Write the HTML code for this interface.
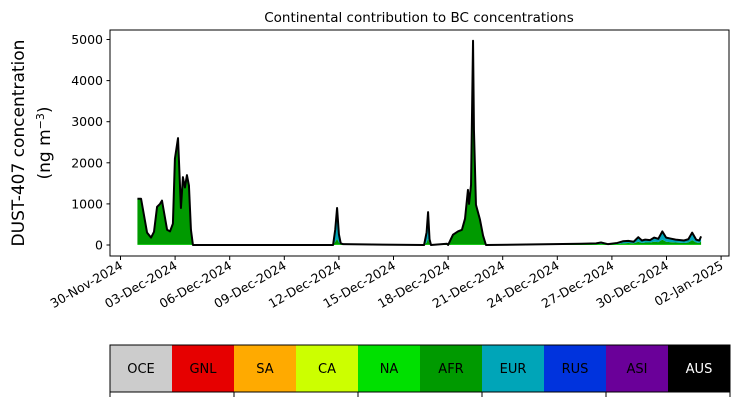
<!DOCTYPE html>
<html><head><meta charset="utf-8"><style>
html,body{margin:0;padding:0;background:#fff;width:739px;height:402px;overflow:hidden}
svg text{font-family:"DejaVu Sans","Liberation Sans",sans-serif}
</style></head><body>
<svg id="chart" width="739" height="402" xmlns="http://www.w3.org/2000/svg">
<text x="419" y="22" font-size="13.5" text-anchor="middle">Continental contribution to BC concentrations</text>
<text transform="translate(24,143) rotate(-90)" font-size="17" text-anchor="middle">DUST-407 concentration</text>
<text transform="translate(50,143) rotate(-90)" font-size="17" text-anchor="middle">(ng m<tspan baseline-shift="super" font-size="11">−3</tspan>)</text>
<g id="plot"></g>
<rect x="110" y="30" width="619" height="226" fill="none" stroke="#000" stroke-width="1"/>
<g id="legend"></g>
</svg>
<script>
const days = [0.93,1.13,1.46,1.68,1.84,2.01,2.17,2.28,2.39,2.56,2.72,2.88,2.99,3.16,3.32,3.43,3.54,3.65,3.76,3.87,3.98,11.68,11.8,11.9,12.0,12.1,12.23,16.68,16.82,16.9,16.98,17.06,17.94,18.0,18.16,18.27,18.54,18.76,18.93,19.09,19.15,19.26,19.37,19.42,19.53,19.75,19.92,20.08,25.3,26.13,26.4,26.79,27.3,27.6,27.9,28.2,28.45,28.65,28.83,29.1,29.32,29.55,29.77,29.98,30.19,30.5,30.96,31.2,31.41,31.63,31.8,31.9];
const afr = [1125,1125,300,180,320,930,1000,1080,800,370,330,520,2100,2600,900,1650,1400,1700,1450,370,0,0,80,150,60,20,20,0,60,150,40,0,30,0,150,250,330,370,640,1300,980,1420,4870,2750,960,610,225,0,15,20,30,10,25,40,50,40,80,50,60,60,80,70,130,80,70,60,50,60,120,60,50,90];
const eur = [0,0,0,0,0,0,0,0,0,0,0,0,0,0,0,0,0,0,0,0,0,0,300,750,200,20,0,0,250,650,100,0,0,0,0,0,0,0,0,40,20,40,100,50,20,10,5,0,15,20,30,10,25,50,50,40,110,60,70,60,100,80,200,100,90,70,60,80,180,70,60,120];
const yTicks = [0,1000,2000,3000,4000,5000];
const xTickLabels = ["30-Nov-2024","03-Dec-2024","06-Dec-2024","09-Dec-2024","12-Dec-2024","15-Dec-2024","18-Dec-2024","21-Dec-2024","24-Dec-2024","27-Dec-2024","30-Dec-2024","02-Jan-2025"];
const regions = ["OCE","GNL","SA","CA","NA","AFR","EUR","RUS","ASI","AUS"];
const regionColors = ["#cccccc","#e60000","#ffaa00","#ccff00","#00e000","#009a00","#00a5b8","#0033dd","#6a0099","#000000"];

const NS="http://www.w3.org/2000/svg";
const xS = d => 120.5 + d*18.2;
const yS = v => 245 - v*(205.5/5000);
const plot = document.getElementById('plot');
function mk(tag, attrs, parent){const e=document.createElementNS(NS,tag);for(const k in attrs)e.setAttribute(k,attrs[k]);parent.appendChild(e);return e;}

yTicks.forEach(v=>{
  const g=mk('g',{},plot);
  
  
  mk('line',{x1:106.5,x2:110,y1:yS(v),y2:yS(v),stroke:'#000'},g);
  const t=mk('text',{x:103,y:yS(v)+4.5,'font-size':12.5,'text-anchor':'end'},g);
  t.textContent=v;
});
xTickLabels.forEach((lab,i)=>{
  const x=xS(i*3);
  const g=mk('g',{},plot);
  
  
  mk('line',{x1:x,x2:x,y1:256,y2:260,stroke:'#000'},g);
  const t=mk('text',{transform:`translate(${x+3},${268}) rotate(-30)`,'font-size':12.5,'text-anchor':'end'},g);
  t.textContent=lab;
});
function area(lower, upper, color, name){
  let d='M'+xS(days[0])+','+yS(upper[0]);
  for(let i=1;i<days.length;i++) d+='L'+xS(days[i])+','+yS(upper[i]);
  for(let i=days.length-1;i>=0;i--) d+='L'+xS(days[i])+','+yS(lower[i]);
  const p=mk('path',{d:d+'Z',fill:color,stroke:'none'},plot);
  
  
}
const zero=days.map(()=>0);
const na=days.map((d,i)=>Math.min(afr[i]+eur[i],15));
const afrTop=days.map((d,i)=>afr[i]);
const tot=days.map((d,i)=>afr[i]+eur[i]);
area(zero,na,'#00e000','na-area');
area(na,afrTop.map((v,i)=>Math.max(v,na[i])),'#009a00','afr-area');
area(afrTop,tot,'#00a5b8','eur-area');
let ld='';
days.forEach((d,i)=>{ld+=(i?'L':'M')+xS(d)+','+yS(tot[i]);});
const line=mk('path',{d:ld,fill:'none',stroke:'#000','stroke-width':2,'stroke-linejoin':'round'},plot);



const leg=document.getElementById('legend');
const cw=62;
regions.forEach((r,i)=>{
  const g=mk('g',{},leg);
  
  
  mk('rect',{x:110+i*cw,y:345,width:cw,height:47,fill:regionColors[i]},g);
  const t=mk('text',{x:110+i*cw+cw/2,y:373,'font-size':13,'text-anchor':'middle',fill:r==='AUS'?'#fff':'#000'},g);
  t.textContent=r;
});
mk('rect',{x:110,y:345,width:620,height:47,fill:'none',stroke:'#000'},leg);
[0,2,4,6,8,10].forEach(i=>{mk('line',{x1:110+i*cw,x2:110+i*cw,y1:392,y2:397,stroke:'#000'},leg);});
</script>
</body></html>
